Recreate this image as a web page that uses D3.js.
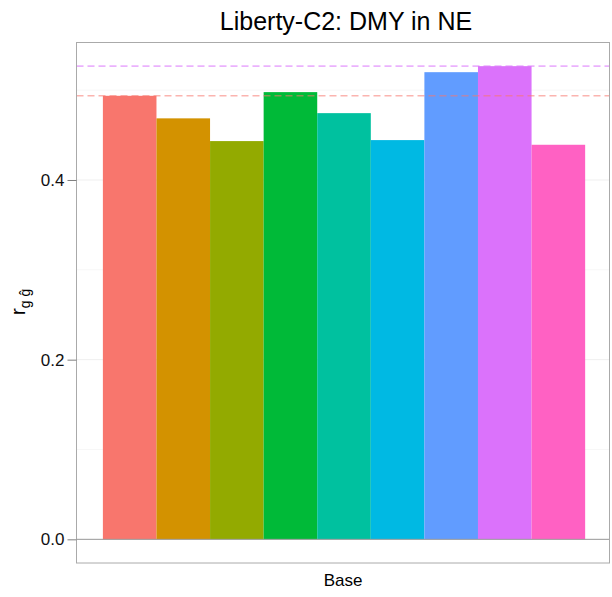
<!DOCTYPE html>
<html>
<head>
<meta charset="utf-8">
<script src="https://cdn.jsdelivr.net/npm/d3@7"></script>
<style>
  body { margin: 0; background: #fff; }
  text { font-family: "Liberation Sans", Arial, sans-serif; }
</style>
</head>
<body>
<svg width="612" height="597"></svg>
<script>
// Data
const group = ["Base"];
const series = ["s1", "s2", "s3", "s4", "s5", "s6", "s7", "s8", "s9"];
const values = [0.4937, 0.4686, 0.4433, 0.4978, 0.4744, 0.4444, 0.5200, 0.5267, 0.4392];
const colors = ["#F8766D", "#D39200", "#93AA00", "#00BA38", "#00C19F", "#00B9E3", "#619CFF", "#DB72FB", "#FF61C3"];
const refLines = [0.4937, 0.5267];
const refColors = ["#F8766D", "#DB72FB"];
const yTicks = [0.0, 0.2, 0.4];
const yMinor = [0.1, 0.3, 0.5];

const svg = d3.select("svg");
const panel = { left: 76.5, right: 609.5, top: 42.5, bottom: 563 };

// y domain expanded 5% like ggplot
const lo = Math.min(0, d3.min(values)), hi = d3.max(values);
const pad = (hi - lo) * 0.05;
const y = d3.scaleLinear().domain([lo - pad, hi + pad]).range([panel.bottom, panel.top]);

const x0 = d3.scaleBand().domain(group)
    .range([panel.left, panel.right])
    .paddingInner(0).paddingOuter(0.0526).align(0.52);
const x1 = d3.scaleBand().domain(series).range([0, x0.bandwidth()]).padding(0);

// grid lines
svg.append("g").selectAll("line").data(yMinor).join("line")
    .attr("x1", panel.left).attr("x2", panel.right)
    .attr("y1", d => y(d)).attr("y2", d => y(d))
    .attr("stroke", "#f7f7f7").attr("stroke-width", 1);
svg.append("g").selectAll("line").data(yTicks).join("line")
    .attr("x1", panel.left).attr("x2", panel.right)
    .attr("y1", d => y(d)).attr("y2", d => y(d))
    .attr("stroke", "#efefef").attr("stroke-width", 1);

// bars
svg.append("g").selectAll("rect").data(values).join("rect")
    .attr("x", (d, i) => x0("Base") + x1(series[i]))
    .attr("width", x1.bandwidth())
    .attr("y", d => y(d))
    .attr("height", d => y(0) - y(d))
    .attr("fill", (d, i) => colors[i]);

// zero line
svg.append("line")
    .attr("x1", panel.left).attr("x2", panel.right)
    .attr("y1", y(0)).attr("y2", y(0))
    .attr("stroke", "#9a9a9a").attr("stroke-width", 1);

// dashed reference lines
svg.append("g").selectAll("line").data(refLines).join("line")
    .attr("x1", panel.left).attr("x2", panel.right)
    .attr("y1", d => y(d)).attr("y2", d => y(d))
    .attr("stroke", (d, i) => refColors[i])
    .attr("stroke-opacity", 0.55)
    .attr("stroke-width", 1.6)
    .attr("stroke-dasharray", "7,4");

// panel border
svg.append("rect")
    .attr("x", panel.left).attr("y", panel.top)
    .attr("width", panel.right - panel.left).attr("height", panel.bottom - panel.top)
    .attr("fill", "none").attr("stroke", "#aaaaaa").attr("stroke-width", 1);

// y axis
const yAxis = d3.axisLeft(y).tickValues(yTicks).tickFormat(d3.format(".1f")).tickSize(9).tickPadding(3);
const ga = svg.append("g").attr("transform", `translate(${panel.left},0)`).call(yAxis);
ga.select(".domain").remove();
ga.selectAll(".tick line").attr("stroke", "#7f7f7f");
ga.selectAll(".tick text").attr("fill", "#111").style("font-size", "17px")
    .style("font-family", "'Liberation Sans', Arial, sans-serif");

// title
svg.append("text")
    .attr("x", 346).attr("y", 29.5)
    .attr("text-anchor", "middle")
    .style("font-size", "25px").attr("fill", "#000")
    .text("Liberty-C2: DMY in NE");

// x label
svg.append("text")
    .attr("x", 343).attr("y", 586)
    .attr("text-anchor", "middle")
    .style("font-size", "17px").attr("fill", "#000")
    .text("Base");

// y label r_{g ĝ}
const yl = svg.append("text")
    .attr("transform", "translate(25,302) rotate(-90)")
    .attr("text-anchor", "middle")
    .attr("fill", "#000");
yl.append("tspan").style("font-size", "21px").text("r");
yl.append("tspan").style("font-size", "14px").attr("dy", 5).text("g ĝ");
</script>
</body>
</html>
